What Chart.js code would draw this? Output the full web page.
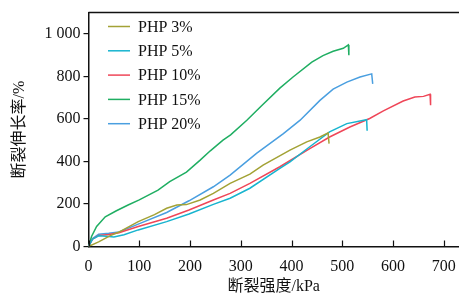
<!DOCTYPE html>
<html lang="zh">
<head>
<meta charset="UTF-8">
<title>断裂强度与断裂伸长率</title>
<script src="https://cdn.jsdelivr.net/npm/chart.js@4.4.0/dist/chart.umd.min.js"></script>
<style>
  html, body { margin: 0; padding: 0; background: #fff; overflow: hidden; }
  #wrap { width: 459px; height: 299px; position: relative; }
</style>
</head>
<body>
<div id="wrap"><canvas id="chart"></canvas></div>
<script>
// series labels + colours
const seriesNames = ['PHP 3%', 'PHP 5%', 'PHP 10%', 'PHP 15%', 'PHP 20%'];
const seriesColors = ['#a3a235', '#17b4cf', '#ef4658', '#1fae62', '#4a9fe0'];

// 断裂强度 (kPa) / 断裂伸长率 (%)
const php3X  = [0, 20, 42, 60, 98, 130, 154, 174, 193, 220, 246, 279, 318, 344, 397, 430, 456, 472, 474];
const php3Y  = [0, 22, 50, 68, 117, 150, 180, 195, 197, 219, 250, 297, 340, 383, 453, 492, 515, 534, 484];
const php5X  = [0, 8, 20, 35, 50, 70, 98, 154, 198, 246, 279, 318, 377, 397, 436, 475, 509, 535, 548, 549];
const php5Y  = [0, 35, 50, 48, 45, 55, 78, 117, 153, 198, 227, 274, 367, 398, 469, 539, 578, 590, 596, 544];
const php10X = [0, 8, 20, 40, 60, 98, 154, 198, 246, 279, 318, 377, 436, 475, 515, 554, 581, 620, 643, 660, 673, 674];
const php10Y = [0, 35, 52, 56, 65, 94, 133, 172, 219, 250, 297, 375, 460, 515, 562, 602, 638, 684, 703, 706, 716, 664];
const php15X = [0, 6, 16, 33, 55, 78, 100, 137, 160, 193, 220, 240, 265, 280, 312, 340, 377, 403, 440, 462, 482, 502, 512, 513];
const php15Y = [0, 47, 94, 140, 168, 195, 219, 265, 305, 350, 406, 450, 500, 525, 594, 660, 745, 797, 867, 898, 918, 932, 948, 900];
const php20X = [0, 8, 20, 40, 60, 98, 154, 198, 246, 279, 331, 384, 417, 456, 482, 509, 535, 558, 560];
const php20Y = [0, 38, 58, 62, 68, 105, 160, 215, 281, 336, 438, 531, 594, 687, 740, 773, 797, 812, 765];

const xTicks = [0, 100, 200, 300, 400, 500, 600, 700];
const yTicks = [0, 200, 400, 600, 800, 1000];

const xs = [php3X, php5X, php10X, php15X, php20X];
const ys = [php3Y, php5Y, php10Y, php15Y, php20Y];

const serif = "'Liberation Serif', 'Noto Sans CJK SC', serif";

function pairs(a, b) {
    return a.map((v, i) => ({ x: v, y: b[i] }));
}

const datasets = seriesNames.map((name, i) => ({
    label: name,
    data: pairs(xs[i], ys[i]),
    borderColor: seriesColors[i],
    backgroundColor: seriesColors[i],
    borderWidth: 1.5,
    pointRadius: 0,
    tension: 0,
    fill: false
}));

// top border, inward x ticks and the legend inside the plot
const extras = {
    id: 'extras',
    afterDraw(chart) {
        const ctx = chart.ctx;
        const area = chart.chartArea;
        const xs = chart.scales.x;
        ctx.save();
        ctx.strokeStyle = '#111';
        ctx.lineWidth = 1.5;
        ctx.beginPath();
        ctx.moveTo(area.left, area.top);
        ctx.lineTo(area.right, area.top);
        ctx.stroke();
        ctx.lineWidth = 1.2;
        xTicks.forEach(v => {
            const px = Math.round(xs.getPixelForValue(v)) + 0.5;
            ctx.beginPath();
            ctx.moveTo(px, area.bottom);
            ctx.lineTo(px, area.bottom - 6);
            ctx.stroke();
        });
        // legend
        ctx.font = '16px ' + serif;
        ctx.textBaseline = 'middle';
        ctx.fillStyle = '#111';
        chart.data.datasets.forEach((ds, i) => {
            const y = 26.5 + i * 24.3;
            ctx.strokeStyle = ds.borderColor;
            ctx.lineWidth = 1.5;
            ctx.beginPath();
            ctx.moveTo(108, y);
            ctx.lineTo(130, y);
            ctx.stroke();
            ctx.fillText(ds.label, 138, y + 1);
        });
        ctx.restore();
    }
};

new Chart(document.getElementById('chart'), {
    type: 'line',
    data: { datasets: datasets },
    options: {
        responsive: true,
        maintainAspectRatio: false,
        animation: false,
        layout: { padding: { top: 12, right: 0, bottom: 0, left: 0 } },
        plugins: { legend: { display: false }, tooltip: { enabled: false } },
        scales: {
            x: {
                type: 'linear',
                min: 0,
                max: 730,
                afterBuildTicks(scale) { scale.ticks = xTicks.map(v => ({ value: v })); },
                afterFit(scale) { scale.height = 52.5; },
                grid: { display: false },
                border: { display: true, color: '#111', width: 1.5 },
                ticks: {
                    color: '#111',
                    font: { family: serif, size: 16 },
                    padding: 3,
                    maxRotation: 0
                },
                title: {
                    display: true,
                    text: '断裂强度/kPa',
                    color: '#111',
                    font: { family: serif, size: 16 },
                    padding: { top: 0, bottom: 3 }
                }
            },
            y: {
                type: 'linear',
                min: 0,
                max: 1100,
                afterBuildTicks(scale) { scale.ticks = yTicks.map(v => ({ value: v })); },
                afterFit(scale) { scale.width = 88.5; },
                grid: {
                    drawOnChartArea: false,
                    drawTicks: true,
                    tickLength: 5,
                    color: '#111',
                    lineWidth: 1.2
                },
                border: { display: true, color: '#111', width: 1.5 },
                ticks: {
                    color: '#111',
                    font: { family: serif, size: 16 },
                    padding: 3,
                    callback: v => v >= 1000 ? String(v).replace(/(\d)(\d{3})$/, '$1 $2') : v
                },
                title: {
                    display: true,
                    text: '断裂伸长率/%',
                    color: '#111',
                    font: { family: serif, size: 16 },
                    padding: { top: 10, bottom: 0 }
                }
            }
        }
    },
    plugins: [extras]
});
</script>
</body>
</html>
